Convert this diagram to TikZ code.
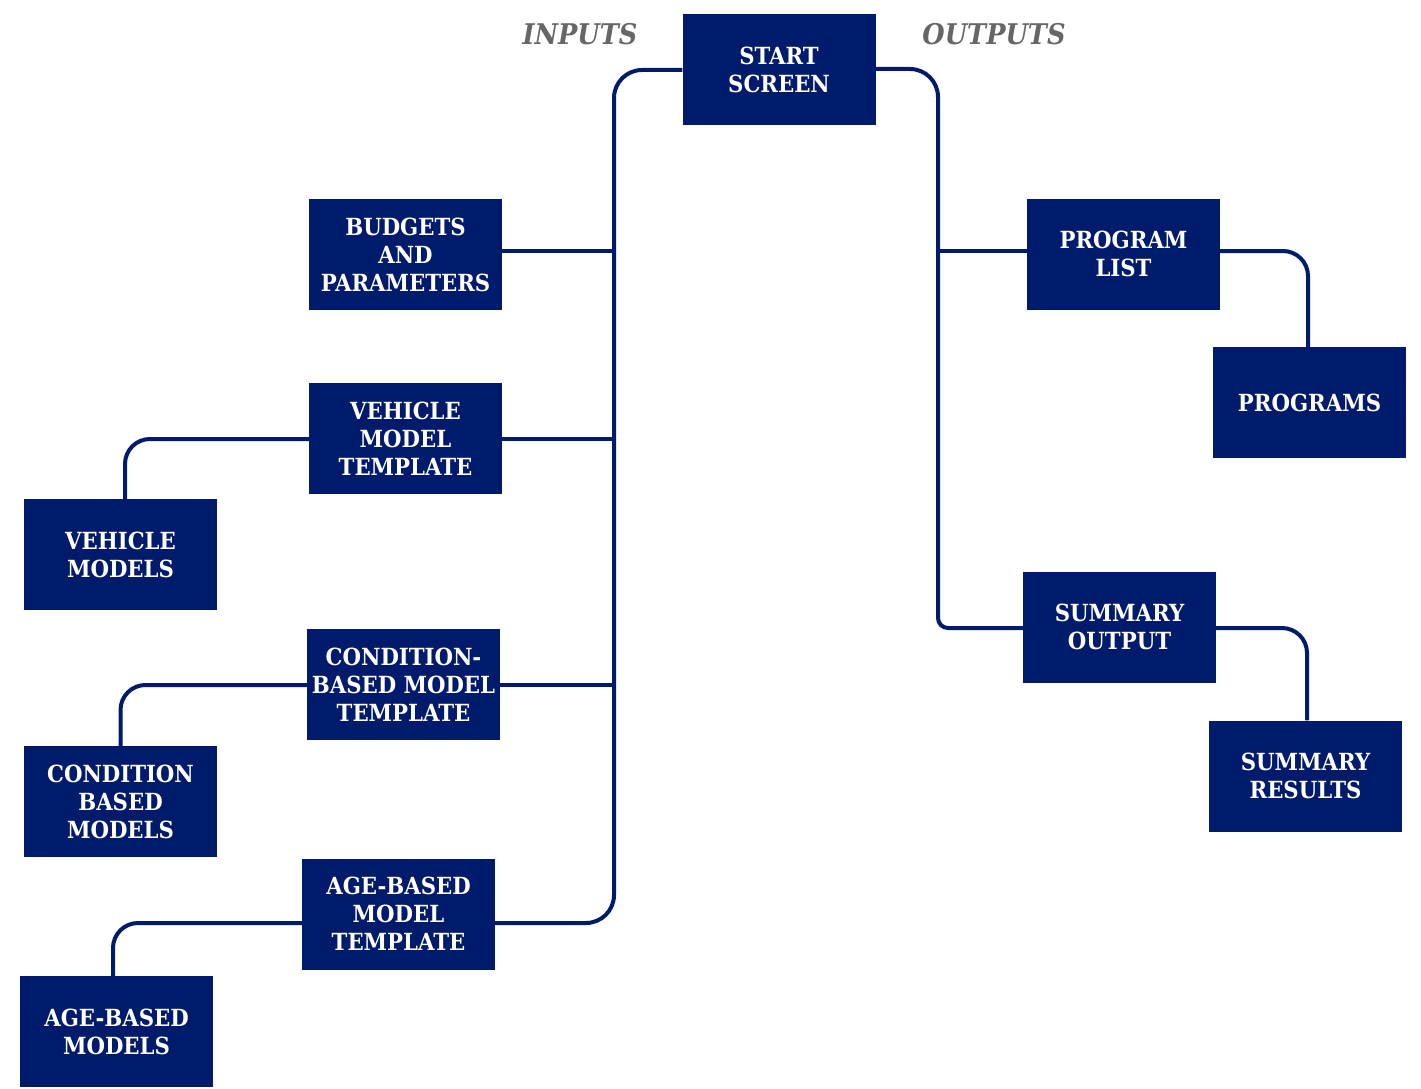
\documentclass[tikz,border=0pt]{standalone}
\usepackage{fontspec}
\setmainfont{DejaVu Serif Condensed}
\definecolor{navy}{RGB}{0,26,108}
\definecolor{labelgray}{RGB}{102,102,102}
\begin{document}
\begin{tikzpicture}[x=1pt,y=-1pt,
  box/.style={fill=navy, text=white, minimum width=193pt, minimum height=111pt, inner sep=0pt,
    align=center, font=\bfseries\fontsize{23.6}{28}\selectfont},
  conn/.style={draw=navy, line width=4pt, rounded corners=28pt},
  side/.style={text=labelgray, font=\bfseries\itshape\fontsize{28.5}{30}\selectfont}]
\useasboundingbox (0,0) rectangle (1421,1089);
% boxes
\node[box] (start) at (779,69.5) {START\\SCREEN};
\node[box] (budgets) at (405.5,254.5) {BUDGETS\\AND\\PARAMETERS};
\node[box] (vtemp) at (405.5,438.5) {VEHICLE\\MODEL\\TEMPLATE};
\node[box] (vmod) at (120.5,554.5) {VEHICLE\\MODELS};
\node[box] (ctemp) at (403.5,684.5) {CONDITION-\\BASED MODEL\\TEMPLATE};
\node[box] (cmod) at (120.5,801.5) {CONDITION\\BASED\\MODELS};
\node[box] (atemp) at (398.5,914) {AGE-BASED\\MODEL\\TEMPLATE};
\node[box] (amod) at (116.5,1031.5) {AGE-BASED\\MODELS};
\node[box] (plist) at (1123.5,254) {PROGRAM\\LIST};
\node[box] (progs) at (1309.5,402.5) {PROGRAMS};
\node[box] (sout) at (1119.5,627) {SUMMARY\\OUTPUT};
\node[box] (sres) at (1305.5,776) {SUMMARY\\RESULTS};
% labels
\node[side] (inputs) at (580,34) {INPUTS};
\node[side] (outputs) at (994,34) {OUTPUTS};
% anchor points
\coordinate (busL) at (614,0);
\coordinate (busR) at (938,0);
\coordinate (busRmid) at (938,500);
\coordinate (startW) at ([yshift=-0.5pt]start.west);
\coordinate (startE) at ([yshift=0.5pt]start.east);
\coordinate (budE) at ([yshift=3.5pt]budgets.east);
\coordinate (vtE) at ([yshift=-0.5pt]vtemp.east);
\coordinate (vtW) at ([yshift=-0.5pt]vtemp.west);
\coordinate (ctE) at ([yshift=-0.5pt]ctemp.east);
\coordinate (ctW) at ([yshift=-0.5pt]ctemp.west);
\coordinate (atE) at ([yshift=-9pt]atemp.east);
\coordinate (atW) at ([yshift=-9pt]atemp.west);
\coordinate (vmN) at ([xshift=4.5pt]vmod.north);
\coordinate (amN) at ([xshift=-3.5pt]amod.north);
\coordinate (plW) at ([yshift=3pt]plist.west);
\coordinate (plE) at ([yshift=3pt]plist.east);
\coordinate (prN) at ([xshift=-1.5pt]progs.north);
\coordinate (srN) at ([xshift=1.5pt]sres.north);
\coordinate (soW) at ([yshift=-1pt]sout.west);
\coordinate (soE) at ([yshift=-1pt]sout.east);
% connectors
\draw[conn] (startW) -| (busL |- atE) -- (atE);
\draw[conn] (budE) -- (busL |- budE);
\draw[conn] (vtE) -- (busL |- vtE);
\draw[conn] (ctE) -- (busL |- ctE);
\draw[conn, rounded corners=25pt] (vtW) -| (vmN);
\draw[conn, rounded corners=25pt] (ctW) -| (cmod.north);
\draw[conn, rounded corners=25pt] (atW) -| (amN);
\draw[conn] (startE) -| (busRmid);
\draw[conn, rounded corners=10pt] (busRmid) |- (soW);
\draw[conn] (plW) -- (busR |- plW);
\draw[conn, rounded corners=25pt] (plE) -| (prN);
\draw[conn, rounded corners=25pt] (soE) -| (srN);
\end{tikzpicture}
\end{document}
